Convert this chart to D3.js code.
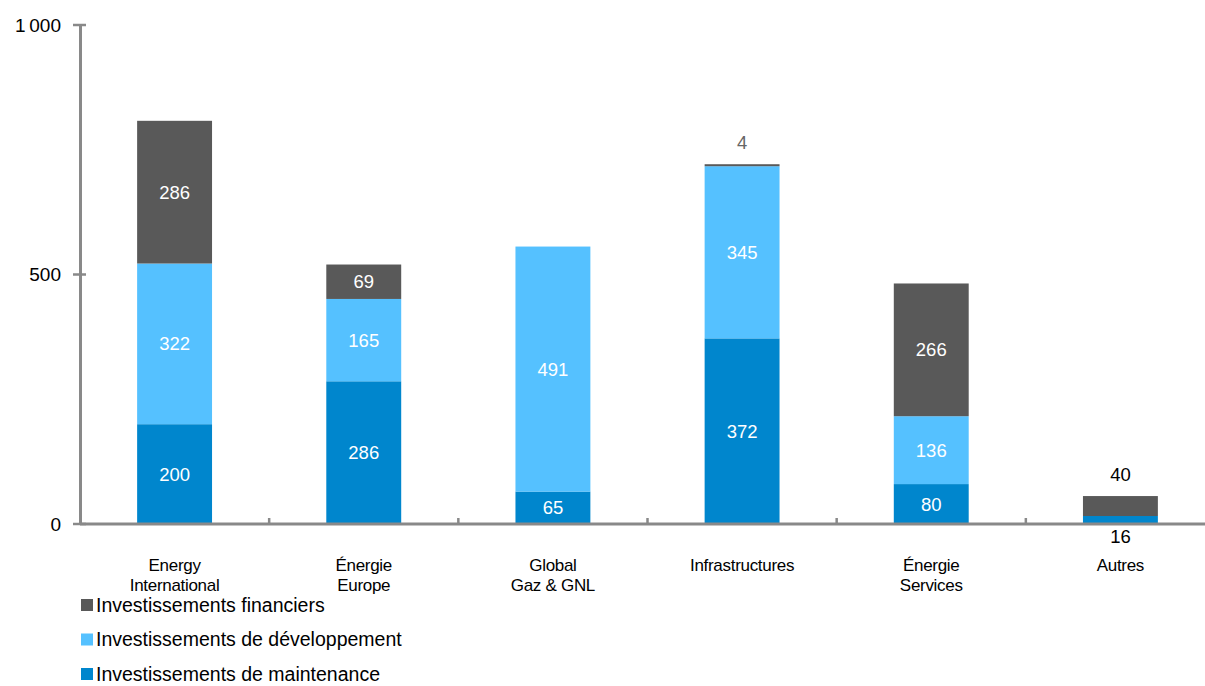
<!DOCTYPE html>
<html>
<head>
<meta charset="utf-8">
<script src="https://cdn.jsdelivr.net/npm/d3@7"></script>
<style>
  body { margin: 0; background: #fff; }
  text { font-family: "Liberation Sans", Arial, sans-serif; }
</style>
</head>
<body>
<svg id="svg"></svg>
<script>
/**
 * DATA
 * */
const categories = [
  ["Energy", "International"],
  ["Énergie", "Europe"],
  ["Global", "Gaz & GNL"],
  ["Infrastructures"],
  ["Énergie", "Services"],
  ["Autres"]
];
const maintenance = [200, 286, 65, 372, 80, 16];
const developpement = [322, 165, 491, 345, 136, 0];
const financiers = [286, 69, 0, 4, 266, 40];
const seriesNames = [
  "Investissements de maintenance",
  "Investissements de développement",
  "Investissements financiers"
];
const yTicks = [0, 500, 1000];

/**
 * CONSTANTS
 * */
const width = 1205,
  height = 686,
  colors = ["#0086CD", "#55C1FF", "#595959"];

const svg = d3.select("#svg")
  .attr("width", width)
  .attr("height", height);

const xScale = d3.scaleBand()
  .domain(d3.range(categories.length))
  .range([80, 1215])
  .paddingInner(0.604)
  .paddingOuter(0.302);

const yScale = d3.scaleLinear()
  .domain([0, 1000])
  .range([524, 25]);

const table = categories.map((c, i) => ({
  i,
  maintenance: maintenance[i],
  developpement: developpement[i],
  financiers: financiers[i]
}));
const keys = ["maintenance", "developpement", "financiers"];
const stacked = d3.stack().keys(keys)(table);

// bars
stacked.forEach((layer, k) => {
  svg.append("g")
    .selectAll("rect")
    .data(layer.filter(d => d[1] > d[0]))
    .join("rect")
    .attr("x", d => xScale(d.data.i))
    .attr("width", xScale.bandwidth())
    .attr("y", d => yScale(d[1]))
    .attr("height", d => yScale(d[0]) - yScale(d[1]))
    .attr("fill", colors[k]);
});

// value labels
stacked.forEach((layer, k) => {
  svg.append("g")
    .selectAll("text")
    .data(layer.filter(d => d[1] > d[0]))
    .join("text")
    .attr("x", d => xScale(d.data.i) + xScale.bandwidth() / 2)
    .attr("y", d => {
      const h = yScale(d[0]) - yScale(d[1]);
      if (h >= 22) return (yScale(d[0]) + yScale(d[1])) / 2;
      if (k === 0) return yScale(0) + 13;     // below axis
      return yScale(d[1]) - 22;               // above bar
    })
    .attr("dy", "0.35em")
    .attr("text-anchor", "middle")
    .attr("font-size", 18.5)
    .attr("fill", d => {
      const h = yScale(d[0]) - yScale(d[1]);
      if (h >= 22) return "#fff";
      return d.data[keys[k]] < 10 ? "#666" : "#000";
    })
    .text(d => d.data[keys[k]]);
});

// x axis
const axisColor = "#898989";
svg.append("line")
  .attr("x1", 80).attr("x2", width)
  .attr("y1", yScale(0)).attr("y2", yScale(0))
  .attr("stroke", axisColor).attr("stroke-width", 3);

svg.append("g")
  .selectAll("line")
  .data(d3.range(1, categories.length))
  .join("line")
  .attr("x1", i => xScale(i) - xScale.step() * xScale.paddingInner() / 2)
  .attr("x2", i => xScale(i) - xScale.step() * xScale.paddingInner() / 2)
  .attr("y1", yScale(0))
  .attr("y2", yScale(0) - 6)
  .attr("stroke", axisColor).attr("stroke-width", 2.5);

// category labels
svg.append("g")
  .selectAll("text")
  .data(categories)
  .join("text")
  .attr("x", (d, i) => xScale(i) + xScale.bandwidth() / 2)
  .attr("y", 571)
  .attr("text-anchor", "middle")
  .attr("font-size", 17)
  .attr("fill", "#000")
  .attr("letter-spacing", "-0.3")
  .each(function(d) {
    d3.select(this).selectAll("tspan")
      .data(d)
      .join("tspan")
      .attr("x", d3.select(this).attr("x"))
      .attr("dy", (t, j) => j === 0 ? 0 : 20)
      .text(t => t);
  });

// y axis
svg.append("line")
  .attr("x1", 80.5).attr("x2", 80.5)
  .attr("y1", yScale(1000)).attr("y2", yScale(0))
  .attr("stroke", axisColor).attr("stroke-width", 3);

const yAxis = svg.append("g");
yAxis.selectAll("line")
  .data(yTicks)
  .join("line")
  .attr("x1", 73).attr("x2", 86)
  .attr("y1", d => yScale(d)).attr("y2", d => yScale(d))
  .attr("stroke", axisColor).attr("stroke-width", 2.5);

yAxis.selectAll("text")
  .data(yTicks)
  .join("text")
  .attr("x", 61)
  .attr("y", d => yScale(d))
  .attr("dy", "0.35em")
  .attr("text-anchor", "end")
  .attr("font-size", 19)
  .attr("fill", "#000")
  .text(d => d3.format(",")(d).replace(",", "\u2009"));

// legend (financiers on top)
const legendOrder = [2, 1, 0];
const legend = svg.append("g")
  .selectAll("g")
  .data(legendOrder)
  .join("g")
  .attr("transform", (k, j) => `translate(81, ${605 + j * 34.5})`);

legend.append("rect")
  .attr("x", 0).attr("y", -6)
  .attr("width", 12).attr("height", 12)
  .attr("fill", k => colors[k]);

legend.append("text")
  .attr("x", 15)
  .attr("dy", "0.35em")
  .attr("font-size", 19.5)
  .attr("fill", "#000")
  .text(k => seriesNames[k]);
</script>
</body>
</html>
